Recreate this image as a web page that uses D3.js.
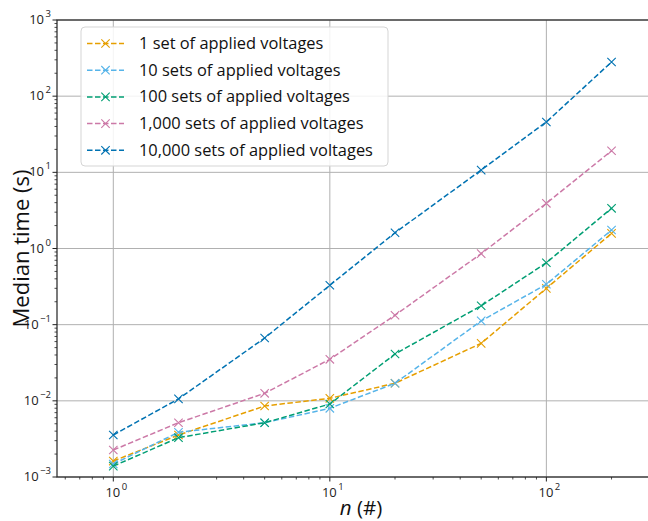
<!DOCTYPE html>
<html>
<head>
<meta charset="utf-8">
<script src="https://cdn.jsdelivr.net/npm/d3@7"></script>
<style>
  body { margin: 0; background: #fff; }
  svg { font-family: "Open Sans", "DejaVu Sans", sans-serif; }
</style>
</head>
<body>
<div id="chart"></div>
<script>
const nValues = [1, 2, 5, 10, 20, 50, 100, 200];
const seriesNames = [
  '1 set of applied voltages',
  '10 sets of applied voltages',
  '100 sets of applied voltages',
  '1,000 sets of applied voltages',
  '10,000 sets of applied voltages'
];
const seriesColors = ['#E69F00', '#56B4E9', '#009E73', '#CC79A7', '#0072B2'];
const set1 = [0.00162, 0.00356, 0.00855, 0.0108, 0.017, 0.0569, 0.30, 1.58];
const set10 = [0.00148, 0.00387, 0.00516, 0.00798, 0.017, 0.112, 0.339, 1.75];
const set100 = [0.00139, 0.00328, 0.00516, 0.00908, 0.0412, 0.177, 0.65, 3.37];
const set1000 = [0.00226, 0.00516, 0.01256, 0.0351, 0.133, 0.855, 3.92, 19.2];
const set10000 = [0.00356, 0.0106, 0.0668, 0.329, 1.61, 10.7, 45.8, 281];
const seriesValues = [set1, set10, set100, set1000, set10000];
const yDecades = [-3, -2, -1, 0, 1, 2, 3];
const xDecades = [0, 1, 2];

const width = 648, height = 521;
const plot = { left: 57, right: 649, top: 20, bottom: 477 };

const svg = d3.select('#chart').append('svg')
  .attr('width', width)
  .attr('height', height);

const x = d3.scaleLog().domain([Math.pow(10, -0.26), Math.pow(10, 2.474)]).range([plot.left, plot.right]);
const y = d3.scaleLog().domain([1e-3, 1e3]).range([plot.bottom, plot.top]);

// minor tick values
const xMinor = [];
for (let d = -1; d <= 2; d++) for (let k = 2; k <= 9; k++) {
  const v = k * Math.pow(10, d);
  if (v >= x.domain()[0] && v <= x.domain()[1]) xMinor.push(v);
}
const yMinor = [];
for (let d = -3; d <= 2; d++) for (let k = 2; k <= 9; k++) yMinor.push(k * Math.pow(10, d));

// grid
const grid = svg.append('g');
grid.selectAll('.gx').data(xDecades).join('line')
  .attr('x1', d => x(Math.pow(10, d))).attr('x2', d => x(Math.pow(10, d)))
  .attr('y1', plot.top).attr('y2', plot.bottom)
  .attr('stroke', '#b0b0b0').attr('stroke-width', 1);
grid.selectAll('.gy').data(yDecades).join('line')
  .attr('x1', plot.left).attr('x2', plot.right)
  .attr('y1', d => y(Math.pow(10, d))).attr('y2', d => y(Math.pow(10, d)))
  .attr('stroke', '#b0b0b0').attr('stroke-width', 1);

// lines
const line = d3.line().x((d, i) => x(nValues[i])).y(d => y(d));
seriesValues.forEach((vals, s) => {
  const g = svg.append('g');
  g.append('path')
    .attr('d', line(vals))
    .attr('fill', 'none')
    .attr('stroke', seriesColors[s])
    .attr('stroke-width', 1.5)
    .attr('stroke-dasharray', '5.5,2.5');
  g.selectAll('path.m').data(vals).join('path')
    .attr('class', 'm')
    .attr('d', (d, i) => {
      const cx = x(nValues[i]), cy = y(d), r = 4.2;
      return `M${cx - r},${cy - r}L${cx + r},${cy + r}M${cx - r},${cy + r}L${cx + r},${cy - r}`;
    })
    .attr('stroke', seriesColors[s])
    .attr('stroke-width', 1.1)
    .attr('fill', 'none');
});

// spines
svg.append('rect')
  .attr('x', plot.left).attr('y', plot.top)
  .attr('width', plot.right - plot.left).attr('height', plot.bottom - plot.top)
  .attr('fill', 'none').attr('stroke', '#222').attr('stroke-width', 1.2);

// ticks
const ax = svg.append('g').attr('stroke', '#222');
ax.selectAll('.xt').data(xDecades).join('line')
  .attr('x1', d => x(Math.pow(10, d))).attr('x2', d => x(Math.pow(10, d)))
  .attr('y1', plot.bottom).attr('y2', plot.bottom + 4.5).attr('stroke-width', 1);
ax.selectAll('.xm').data(xMinor).join('line')
  .attr('x1', d => x(d)).attr('x2', d => x(d))
  .attr('y1', plot.bottom).attr('y2', plot.bottom + 2.5).attr('stroke-width', 0.8);
ax.selectAll('.yt').data(yDecades).join('line')
  .attr('x1', plot.left - 4.5).attr('x2', plot.left)
  .attr('y1', d => y(Math.pow(10, d))).attr('y2', d => y(Math.pow(10, d))).attr('stroke-width', 1);
ax.selectAll('.ym').data(yMinor).join('line')
  .attr('x1', plot.left - 2.5).attr('x2', plot.left)
  .attr('y1', d => y(d)).attr('y2', d => y(d)).attr('stroke-width', 0.8);

// tick labels
function powLabel(sel, d) {
  sel.append('tspan').text('10');
  sel.append('tspan').attr('dy', -7).attr('font-size', 9.5).attr('dx', 1.5).text(d);
}
svg.selectAll('.xl').data(xDecades).join('text')
  .attr('x', d => x(Math.pow(10, d)) + 3)
  .attr('y', plot.bottom + 20)
  .attr('text-anchor', 'middle')
  .attr('font-size', 13)
  .attr('fill', '#222')
  .each(function(d) { powLabel(d3.select(this), d); });
svg.selectAll('.yl').data(yDecades).join('text')
  .attr('x', plot.left - 6)
  .attr('y', d => y(Math.pow(10, d)) + 4)
  .attr('text-anchor', 'end')
  .attr('font-size', 13)
  .attr('fill', '#222')
  .each(function(d) { powLabel(d3.select(this), d < 0 ? '\u2212' + Math.abs(d) : d); });

// axis titles
svg.append('text')
  .attr('transform', `translate(29,${(plot.top + plot.bottom) / 2}) rotate(-90)`)
  .attr('text-anchor', 'middle')
  .attr('font-size', 22)
  .attr('fill', '#111')
  .text('Median time (s)');
const xt = svg.append('text')
  .attr('x', (plot.left + plot.right) / 2 + 8)
  .attr('y', 515)
  .attr('text-anchor', 'middle')
  .attr('font-size', 20.5)
  .attr('fill', '#111');
xt.append('tspan').attr('font-style', 'italic').text('n');
xt.append('tspan').text(' (#)');

// legend
const lg = svg.append('g');
lg.append('rect')
  .attr('x', 81).attr('y', 27)
  .attr('width', 307).attr('height', 139)
  .attr('rx', 4)
  .attr('fill', 'rgba(255,255,255,0.85)')
  .attr('stroke', '#d5d5d5').attr('stroke-width', 1);
seriesNames.forEach((name, s) => {
  const ly = 43.5 + s * 26.7;
  lg.append('line')
    .attr('x1', 87).attr('x2', 124).attr('y1', ly).attr('y2', ly)
    .attr('stroke', seriesColors[s]).attr('stroke-width', 1.5)
    .attr('stroke-dasharray', '5.5,2.5');
  const r = 4.2, cx = 105.5;
  lg.append('path')
    .attr('d', `M${cx - r},${ly - r}L${cx + r},${ly + r}M${cx - r},${ly + r}L${cx + r},${ly - r}`)
    .attr('stroke', seriesColors[s]).attr('stroke-width', 1.1);
  lg.append('text')
    .attr('x', 139).attr('y', ly + 5.5)
    .attr('font-size', 16.4)
    .attr('fill', '#111')
    .text(name);
});
</script>
</body>
</html>
